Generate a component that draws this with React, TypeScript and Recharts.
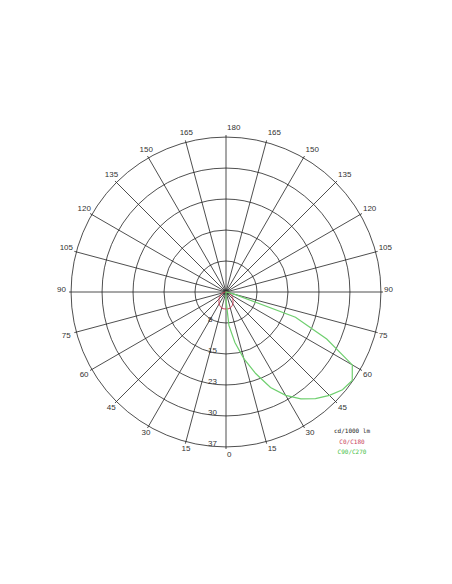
import React from "react";
import {
  Legend,
  PolarAngleAxis,
  PolarGrid,
  PolarRadiusAxis,
  Radar,
  RadarChart,
} from "recharts";

// gamma angles of the measured table (deg)
const GAMMA = [
  0, 5, 10, 15, 20, 25, 30, 35, 40, 45, 50, 55, 60, 65, 70, 75, 80, 85, 90,
  95, 100, 105, 110, 115, 120, 125, 130, 135, 140, 145, 150, 155, 160, 165,
  170, 175, 180,
];

// cd/1000 lm
const C0 = [
  4.1, 4.1, 4.1, 4.0, 3.8, 3.6, 3.3, 3.0, 2.6, 2.4, 2.1, 1.8, 1.4, 1.2, 1.0,
  0.7, 0.5, 0.2, 0, 0, 0, 0, 0, 0, 0, 0, 0, 0, 0, 0, 0, 0, 0, 0, 0, 0, 0,
];
const C180 = [
  4.1, 4.1, 4.1, 4.0, 3.8, 3.6, 3.3, 3.0, 2.6, 2.4, 2.1, 1.8, 1.4, 1.2, 1.0,
  0.7, 0.5, 0.2, 0, 0, 0, 0, 0, 0, 0, 0, 0, 0, 0, 0, 0, 0, 0, 0, 0, 0, 0,
];
const C90 = [
  1.9, 8.1, 12.4, 16.7, 21.0, 25.5, 28.9, 31.6, 33.7, 35.4, 36.8, 37.3, 35.3,
  26.9, 17.9, 2.0, 0.5, 0, 0, 0, 0, 0, 0, 0, 0, 0, 0, 0, 0, 0, 0, 0, 0, 0, 0,
  0, 0,
];
const C270 = [
  0, 0, 0, 0, 0, 0, 0, 0, 0, 0, 0, 0, 0, 0, 0, 0, 0, 0, 0, 0, 0, 0, 0, 0, 0,
  0, 0, 0, 0, 0, 0, 0, 0, 0, 0, 0, 0,
];

const ANGLE_TICKS = [
  0, 15, 30, 45, 60, 75, 90, 105, 120, 135, 150, 165, 180, 195, 210, 225, 240,
  255, 270, 285, 300, 315, 330, 345,
];
const RADIUS_TICKS = [7.5, 15, 22.5, 30, 37.5];
const RADIUS_LABELS = ["8", "15", "23", "30", "37"];

// right half = C0 / C90, left half = C180 / C270 (mirrored gamma)
const rows = [
  ...GAMMA.map((g, i) => ({ angle: g, red: C0[i], green: C90[i] })),
  ...GAMMA.slice(1, -1)
    .map((g, i) => ({ angle: 360 - g, red: C180[i + 1], green: C270[i + 1] }))
    .reverse(),
];

const RAD = Math.PI / 180;
const labelFont = { fontFamily: "Liberation Sans, Arial, sans-serif", fontSize: 8, fill: "#333" };

function AngleTick(props: any) {
  const { cx, cy, radius, payload } = props;
  const a = payload.coordinate;
  const c = Math.cos(a * RAD);
  const s = Math.sin(a * RAD);
  const ex = cx + radius * c;
  const ey = cy - radius * s;
  const e = Math.asin(s) / RAD;
  const v = payload.value <= 180 ? payload.value : 360 - payload.value;
  const yc = ey + (e >= 0 ? -3 - 5 * Math.sin(e * RAD) : 1.5 - 3.5 * Math.sin(e * RAD));
  let x = ex + 1;
  let anchor = "start";
  if (c < -0.01) {
    anchor = "end";
    x = ex + (Math.abs(e) < 1 ? -3 : e > 0 ? -3.6 + 0.15 * e : -5.8 - 0.145 * e);
  }
  return (
    <text x={x} y={yc} dy="0.35em" textAnchor={anchor} {...labelFont}>
      {v}
    </text>
  );
}

function RadiusTick(props: any) {
  const { x, y, index } = props;
  return (
    <text x={x - 18} y={y - 4} dy="0.35em" textAnchor="start" {...labelFont}>
      {RADIUS_LABELS[index]}
    </text>
  );
}

function LegendBox() {
  const mono = { fontFamily: "DejaVu Sans Mono, monospace", fontSize: 6, margin: 0, lineHeight: "10.5px" };
  return (
    <div style={{ textAlign: "center", width: 48 }}>
      <p style={{ ...mono, color: "#222" }}>cd/1000 lm</p>
      <p style={{ ...mono, color: "#c8405a" }}>C0/C180</p>
      <p style={{ ...mono, color: "#44c044" }}>C90/C270</p>
    </div>
  );
}

export default function App() {
  return (
    <div style={{ position: "absolute", left: 0, top: 0, width: 452, height: 584, background: "#fff" }}>
      <RadarChart
        width={452}
        height={584}
        data={rows}
        cx={226}
        cy={292}
        innerRadius={0}
        outerRadius={157}
        startAngle={-90}
        endAngle={270}
        margin={{ top: 0, right: 0, bottom: 0, left: 0 }}
      >
        <PolarGrid gridType="circle" stroke="#222" strokeWidth={0.8} strokeOpacity={1} />
        <PolarAngleAxis
          dataKey="angle"
          type="number"
          domain={[0, 360]}
          ticks={ANGLE_TICKS}
          axisLine={false}
          tickLine={false}
          tick={<AngleTick />}
        />
        <PolarRadiusAxis
          type="number"
          angle={-90}
          domain={[0, 37.5]}
          ticks={RADIUS_TICKS}
          axisLine={false}
          tickLine={false}
          tick={<RadiusTick />}
        />
        <Radar
          dataKey="red"
          stroke="#c8405a"
          strokeWidth={1}
          fill="none"
          fillOpacity={0}
          dot={false}
          isAnimationActive={false}
        />
        <Radar
          dataKey="green"
          stroke="#6fcf6f"
          strokeWidth={1.2}
          fill="none"
          fillOpacity={0}
          dot={false}
          isAnimationActive={false}
        />
        <Legend
          content={<LegendBox />}
          wrapperStyle={{ position: "absolute", left: 328, top: 426, width: 48 }}
        />
      </RadarChart>
    </div>
  );
}
